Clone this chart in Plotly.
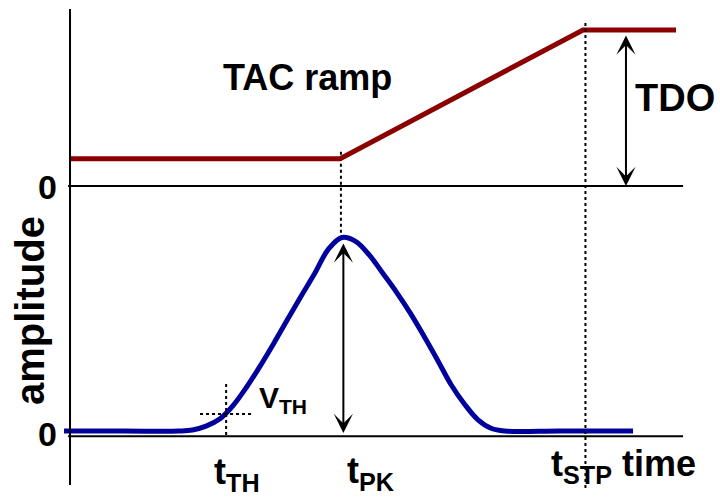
import plotly.graph_objects as go

# ---- data -------------------------------------------------------------
# shaped detector pulse (time in arbitrary units, amplitude normalised to peak)
pulse_t = [-0.22, 2.0, 4.0, 4.5, 5.0, 5.5, 6.0, 6.5, 7.0, 7.5, 8.0, 8.5, 9.0, 9.5,
           10.0, 10.5, 11.0, 11.5, 12.0, 12.5, 13.0, 13.5, 14.0, 14.5, 15.0,
           15.5, 16.0, 18.0, 20.7]
pulse_amp = [0.0, 0.0, 0.0, 0.005, 0.025, 0.062, 0.133, 0.229, 0.338, 0.455, 0.577,
             0.698, 0.815, 0.94, 1.0, 0.98, 0.91, 0.815, 0.718, 0.612, 0.494,
             0.37, 0.242, 0.14, 0.058, 0.013, 0.0, 0.0, 0.0]

# time-to-amplitude converter ramp: idle level, ramps from peak until stop
tac_t = [0.0, 9.93, 18.86, 22.28]
tac_v = [0.175, 0.175, 1.0, 1.0]

# characteristic instants and levels
t_th = 5.74      # threshold crossing
v_th = 0.088     # threshold level
t_pk = 10.0      # pulse peak
t_stp = 18.95    # stop signal
t_end = 22.54    # end of drawn time axis

# ---- styling ----------------------------------------------------------
W, H = 720, 498
FONT = "Liberation Sans, Arial, sans-serif"
BLUE = "#00009c"
RED = "#8b0000"

X_RANGE = [-2.574, 23.897]
AMP_RANGE = [-0.346, 2.227]   # bottom trace (pulse)
TAC_RANGE = [-2.0, 1.192]     # top trace (ramp), overlaid


def amp_to_tac(a):
    """Express an amplitude value in ramp-axis units (same vertical pixel)."""
    frac = (a - AMP_RANGE[0]) / (AMP_RANGE[1] - AMP_RANGE[0])
    return TAC_RANGE[0] + frac * (TAC_RANGE[1] - TAC_RANGE[0])


def px(x):
    return x / W


def py(y):
    return 1 - y / H


fig = go.Figure()

fig.add_trace(go.Scatter(
    x=tac_t, y=tac_v, yaxis="y2", mode="lines",
    line=dict(color=RED, width=5), hoverinfo="skip", showlegend=False))

fig.add_trace(go.Scatter(
    x=pulse_t, y=pulse_amp, mode="lines",
    line=dict(color=BLUE, width=5, shape="spline", smoothing=1.0),
    hoverinfo="skip", showlegend=False))

shapes = []
# vertical axis
shapes.append(dict(type="line", xref="x", yref="paper", x0=0, x1=0,
                   y0=py(485), y1=py(9), line=dict(color="black", width=2)))
# ramp zero line
shapes.append(dict(type="line", xref="x", yref="y2", x0=-0.07, x1=t_end,
                   y0=0, y1=0, line=dict(color="black", width=2)))
# amplitude zero line (just under the pulse baseline)
shapes.append(dict(type="line", xref="x", yref="y", x0=-0.07, x1=t_end,
                   y0=-0.027, y1=-0.027, line=dict(color="black", width=2)))
# dotted marker: ramp start -> pulse peak
shapes.append(dict(type="line", xref="x", yref="y2", x0=t_pk - 0.04, x1=t_pk - 0.04,
                   y0=0.22, y1=amp_to_tac(1.0), layer="below",
                   line=dict(color="black", width=2, dash="dot")))
# dotted marker: stop instant
shapes.append(dict(type="line", xref="x", yref="y2", x0=t_stp, x1=t_stp,
                   y0=1.045, y1=amp_to_tac(-0.30),
                   line=dict(color="black", width=2, dash="dot")))
# threshold crosshair
shapes.append(dict(type="line", xref="x", yref="y", x0=t_th, x1=t_th,
                   y0=-0.02, y1=0.248, line=dict(color="black", width=2, dash="dot")))
shapes.append(dict(type="line", xref="x", yref="y", x0=t_th - 0.96, x1=t_th + 0.96,
                   y0=v_th, y1=v_th, line=dict(color="black", width=2, dash="dot")))

annotations = []
# double-headed arrows
annotations.append(dict(x=20.44, y=0.0, xref="x", yref="y2",
                        ax=20.44, ay=0.974, axref="x", ayref="y2",
                        text="", showarrow=True, arrowside="end+start",
                        arrowhead=3, startarrowhead=3, arrowwidth=2,
                        arrowsize=1.6, startarrowsize=1.6, arrowcolor="black",
                        standoff=0, startstandoff=0))
annotations.append(dict(x=t_pk + 0.05, y=-0.01, xref="x", yref="y",
                        ax=t_pk + 0.05, ay=0.977, axref="x", ayref="y",
                        text="", showarrow=True, arrowside="end+start",
                        arrowhead=3, startarrowhead=3, arrowwidth=2,
                        arrowsize=1.6, startarrowsize=1.6, arrowcolor="black",
                        standoff=0, startstandoff=0))


def label(text, x, y, size, xanchor="center", yanchor="middle",
          xref="paper", yref="paper", angle=0, xshift=0):
    annotations.append(dict(text=text, x=x, y=y, xref=xref, yref=yref,
                            xanchor=xanchor, yanchor=yanchor, showarrow=False,
                            textangle=angle, xshift=xshift,
                            font=dict(family=FONT, size=size, color="black",
                                      weight="bold")))


label("TAC ramp", px(307.5), py(78), 36)
label("TDO", px(675), py(98), 38)
label("0", px(47), py(187), 34)
label("0", px(47), py(434), 34)
label("amplitude", px(30), py(311), 40, angle=-90)
label("V<sub>TH</sub>", px(257), py(399), 30, xanchor="left")
label("t<sub>TH</sub>", t_th, py(474), 36, xanchor="left", xref="x", xshift=-14)
label("t<sub>PK</sub>", t_pk, py(473), 36, xanchor="left", xref="x", xshift=3)
label("t<sub>STP</sub>", t_stp, py(466), 36, xanchor="left", xref="x", xshift=-36)
label("time", px(659), py(463), 36)

axis_off = dict(visible=False, showgrid=False, zeroline=False, fixedrange=True)
fig.update_layout(
    width=W, height=H,
    margin=dict(l=0, r=0, t=0, b=0, pad=0),
    paper_bgcolor="white", plot_bgcolor="white",
    xaxis=dict(range=X_RANGE, **axis_off),
    yaxis=dict(range=AMP_RANGE, **axis_off),
    yaxis2=dict(range=TAC_RANGE, overlaying="y", **axis_off),
    shapes=shapes, annotations=annotations,
    showlegend=False,
)

fig.write_html("out.html")
